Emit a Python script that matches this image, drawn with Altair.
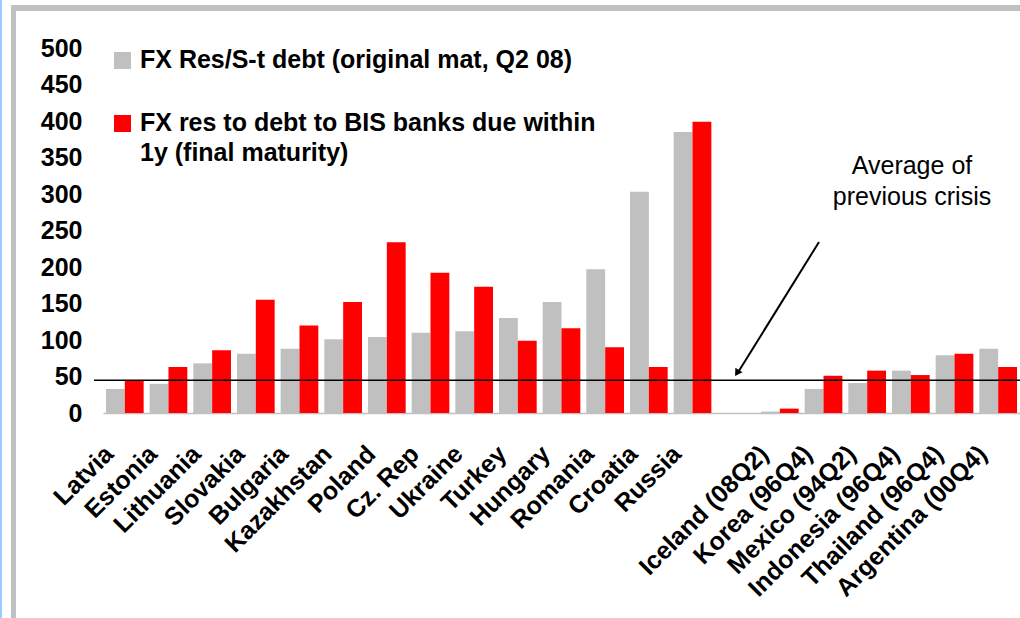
import altair as alt
import pandas as pd

categories = ["Latvia", "Estonia", "Lithuania", "Slovakia", "Bulgaria", "Kazakhstan",
              "Poland", "Cz. Rep", "Ukraine", "Turkey", "Hungary", "Romania", "Croatia",
              "Russia", " ", "Iceland (08Q2)", "Korea (96Q4)", "Mexico (94Q2)",
              "Indonesia (96Q4)", "Thailand (96Q4)", "Argentina (00Q4)"]
fx_res_st_debt = [33, 40, 68, 81, 88, 101, 104, 110, 112, 130, 152, 197, 303, 385,
                  None, 2, 33, 41, 58, 79, 88]
fx_res_bis_debt = [45, 63, 86, 155, 120, 152, 234, 192, 173, 99, 116, 90, 63, 399,
                   None, 6, 51, 58, 52, 81, 63]
series_names = ["FX Res/S-t debt (original mat, Q2 08)",
                "FX res to debt to BIS banks due within 1y (final maturity)"]
legend_lines = [["FX Res/S-t debt (original mat, Q2 08)"],
                ["FX res to debt to BIS banks due within", "1y (final maturity)"]]
series_colors = ["#c0c0c0", "#ff0000"]
avg_previous_crisis = 45
annotation_lines = ["Average of", "previous crisis"]
y_ticks = [0, 50, 100, 150, 200, 250, 300, 350, 400, 450, 500]

FONT = "Liberation Sans"
W, H = 917, 365
PAD_L, PAD_T, PAD_B = 103, 48, 205

rows = []
for c, g, r in zip(categories, fx_res_st_debt, fx_res_bis_debt):
    if g is None:
        continue
    rows.append({"country": c, "series": series_names[0], "value": g})
    rows.append({"country": c, "series": series_names[1], "value": r})
df = pd.DataFrame(rows)

y_scale = alt.Scale(domain=[0, 500], nice=False)
y_axis = alt.Axis(title=None, values=y_ticks, tickCount=11, grid=False,
                  domain=False, ticks=False, labelFont=FONT, labelFontSize=25,
                  labelFontWeight="bold", labelColor="black", labelPadding=21,
                  labelOverlap=False)

bars = alt.Chart(df).mark_bar().encode(
    x=alt.X("country:N",
            scale=alt.Scale(domain=categories, paddingInner=0.137, paddingOuter=0.068),
            axis=alt.Axis(title=None, labelAngle=-45, labelFont=FONT, labelFontSize=25,
                          labelFontWeight="bold", labelColor="black", ticks=False,
                          domainColor="#c0c0c0", domainWidth=1.5, labelPadding=28,
                          labelOffset=-24, labelLimit=0, labelOverlap=False,
                          labelAlign="right", labelBaseline="top")),
    xOffset=alt.XOffset("series:N", scale=alt.Scale(domain=series_names,
                                                    paddingInner=0, paddingOuter=0)),
    y=alt.Y("value:Q", scale=y_scale, axis=y_axis),
    color=alt.Color("series:N", scale=alt.Scale(domain=series_names, range=series_colors),
                    legend=None),
)

one = pd.DataFrame({"v": [avg_previous_crisis]})

avg_line = alt.Chart(one).mark_rule(color="black", strokeWidth=1.5).encode(
    y=alt.Y("v:Q", scale=y_scale, axis=y_axis), x=alt.value(-9), x2=alt.value(W))

# legend (manual, built from the series lists)
leg_sq1 = alt.Chart(one).mark_square(size=289, filled=True, opacity=1,
                                     color=series_colors[0]).encode(
    x=alt.value(19.5), y=alt.value(12.5))
leg_sq2 = alt.Chart(one).mark_square(size=289, filled=True, opacity=1,
                                     color=series_colors[1]).encode(
    x=alt.value(19.5), y=alt.value(75.5))
leg_t1 = alt.Chart(one).mark_text(text=legend_lines[0], font=FONT, fontSize=25,
                                  fontWeight="bold", align="left", baseline="alphabetic",
                                  color="black").encode(x=alt.value(37), y=alt.value(20))
leg_t2 = alt.Chart(one).mark_text(text=legend_lines[1], font=FONT, fontSize=25,
                                  fontWeight="bold", align="left", baseline="alphabetic",
                                  lineHeight=30, color="black").encode(
    x=alt.value(37), y=alt.value(83))

# annotation
ann_text = alt.Chart(one).mark_text(text=annotation_lines, font=FONT, fontSize=25,
                                    align="center", baseline="alphabetic", lineHeight=31,
                                    color="black").encode(x=alt.value(809), y=alt.value(126))
arrow = alt.Chart(one).mark_rule(color="black", strokeWidth=2).encode(
    x=alt.value(716), y=alt.value(194), x2=alt.value(634), y2=alt.value(326))
arrow_head = alt.Chart(one).mark_point(shape="triangle-up", filled=True, opacity=1,
                                       size=70, angle=212, color="black").encode(
    x=alt.value(634), y=alt.value(325))

# frame decorations
blue_edge = alt.Chart(one).mark_rule(color="#99ccff", strokeWidth=2).encode(
    x=alt.value(1 - PAD_L), y=alt.value(-PAD_T), y2=alt.value(H + PAD_B))
frame_left = alt.Chart(one).mark_rule(color="#c0c0c0", strokeWidth=5).encode(
    x=alt.value(13.5 - PAD_L), y=alt.value(5 - PAD_T), y2=alt.value(H + PAD_B))
frame_top = alt.Chart(one).mark_rule(color="#c0c0c0", strokeWidth=6).encode(
    y=alt.value(8 - PAD_T), x=alt.value(11 - PAD_L), x2=alt.value(W))

chart = alt.layer(
    blue_edge, frame_left, frame_top, bars, avg_line,
    leg_sq1, leg_sq2, leg_t1, leg_t2, ann_text, arrow, arrow_head
).properties(
    width=W, height=H,
    autosize=alt.AutoSizeParams(type="none"),
    padding={"left": PAD_L, "top": PAD_T, "right": 0, "bottom": PAD_B},
    background="white",
).configure_view(stroke=None)

chart.save("out.html", embed_options={"renderer": "svg", "actions": False})
